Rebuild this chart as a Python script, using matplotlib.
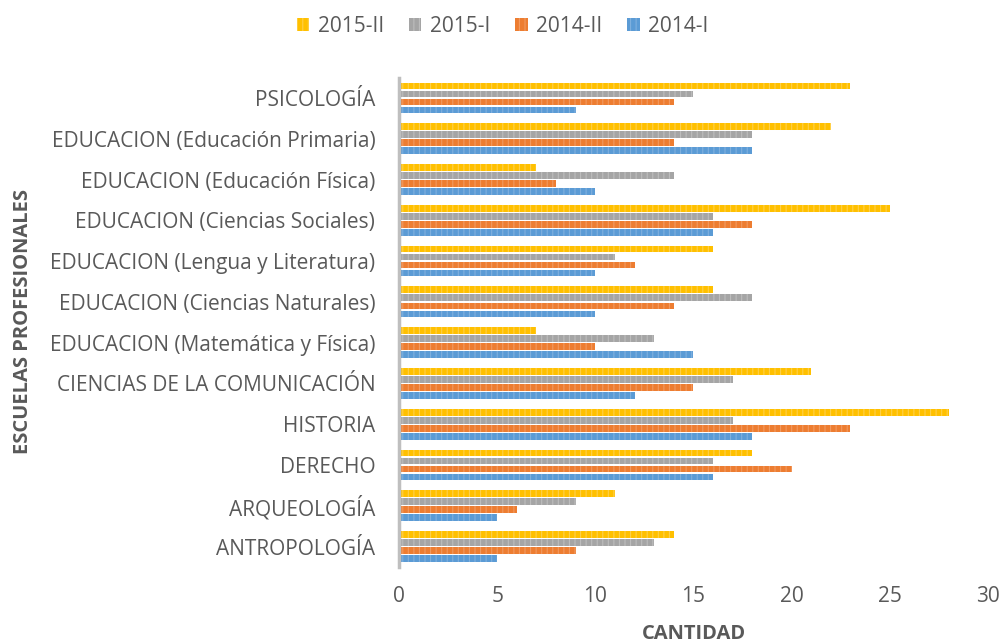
import matplotlib.pyplot as plt
import numpy as np

plt.rcParams['font.family'] = ['Open Sans', 'DejaVu Sans']
plt.rcParams['hatch.linewidth'] = 0.8

escuelas = ['ANTROPOLOGÍA', 'ARQUEOLOGÍA', 'DERECHO', 'HISTORIA',
            'CIENCIAS DE LA COMUNICACIÓN', 'EDUCACION (Matemática y Física)',
            'EDUCACION (Ciencias Naturales)', 'EDUCACION (Lengua y Literatura)',
            'EDUCACION (Ciencias Sociales)', 'EDUCACION (Educación Física)',
            'EDUCACION (Educación Primaria)', 'PSICOLOGÍA']

s2014_I = [5, 5, 16, 18, 12, 15, 10, 10, 16, 10, 18, 9]
s2014_II = [9, 6, 20, 23, 15, 10, 14, 12, 18, 8, 14, 14]
s2015_I = [13, 9, 16, 17, 17, 13, 18, 11, 16, 14, 18, 15]
s2015_II = [14, 11, 18, 28, 21, 7, 16, 16, 25, 7, 22, 23]

series = [('2014-I', s2014_I, '#5B9BD5', '#7FB0DE'),
          ('2014-II', s2014_II, '#ED7D31', '#F29A60'),
          ('2015-I', s2015_I, '#A5A5A5', '#BDBDBD'),
          ('2015-II', s2015_II, '#FFC000', '#FFD04A')]

fig = plt.figure(figsize=(10.05, 6.44), dpi=100)
ax = fig.add_axes([0.397, 0.1196, 0.586, 0.760])

y = np.arange(len(escuelas))
step = 0.197
h = 0.165
handles = []
for i, (name, vals, col, light) in enumerate(series):
    b = ax.barh(y + (i - 1.5) * step, vals, height=h, color=col,
                edgecolor=light, linewidth=0, hatch='|||', label=name)
    handles.append(b)

ax.set_xlim(0, 30)
ax.set_ylim(-0.5, len(escuelas) - 0.5)
ax.set_xticks(range(0, 31, 5))
ax.set_yticks(y)
ax.set_yticklabels(escuelas)
ax.tick_params(axis='both', length=0, colors='#595959', labelsize=15)
ax.tick_params(axis='x', pad=14)
ax.tick_params(axis='y', pad=17)
for s in ['top', 'right', 'bottom']:
    ax.spines[s].set_visible(False)
ax.spines['left'].set_color('#BFBFBF')
ax.spines['left'].set_linewidth(2.5)

ax.set_xlabel('CANTIDAD', fontsize=14.5, fontweight='bold', color='#595959', labelpad=12)
fig.text(0.023, 0.50, 'ESCUELAS PROFESIONALES', rotation=90, fontsize=14.5,
         fontweight='bold', color='#595959', ha='center', va='center')

fig.legend(handles[::-1], [s[0] for s in series][::-1], loc='upper center',
           bbox_to_anchor=(0.5, 1.005), ncol=4, frameon=False, fontsize=15,
           handlelength=0.6, handleheight=0.6, columnspacing=1.2, handletextpad=0.4,
           labelcolor='#595959')

fig.savefig('out.png', dpi=100)
